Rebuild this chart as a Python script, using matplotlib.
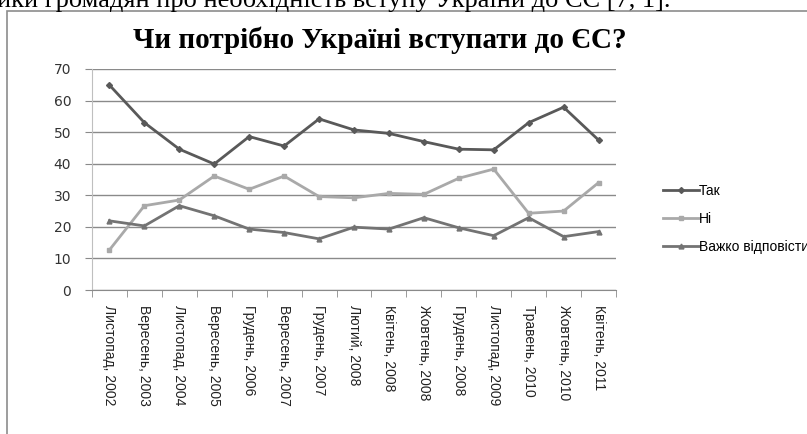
import numpy as np
import matplotlib.pyplot as plt
from matplotlib.patches import Rectangle

# дані з діаграми (%)
periods = ["Листопад, 2002", "Вересень, 2003", "Листопад, 2004", "Вересень, 2005",
           "Грудень, 2006", "Вересень, 2007", "Грудень, 2007", "Лютий, 2008",
           "Квітень, 2008", "Жовтень, 2008", "Грудень, 2008", "Листопад, 2009",
           "Травень, 2010", "Жовтень, 2010", "Квітень, 2011"]
tak = [64.9, 53.0, 44.6, 39.9, 48.6, 45.6, 54.2, 50.7, 49.6, 47.0, 44.6, 44.4, 53.0, 57.9, 47.5]
ni = [12.7, 26.7, 28.5, 36.1, 31.9, 36.1, 29.6, 29.2, 30.6, 30.3, 35.4, 38.3, 24.3, 25.0, 34.0]
vazhko = [21.9, 20.3, 26.7, 23.5, 19.3, 18.2, 16.2, 19.9, 19.3, 22.9, 19.7, 17.2, 22.9, 16.9, 18.5]

fig = plt.figure(figsize=(8.07, 4.34), dpi=100)
ax = fig.add_axes([92 / 807, 1 - 290 / 434, 524 / 807, 221 / 434])

# рамка області діаграми
fig.patches.append(Rectangle((7 / 807, -0.1), 1.2, 1 - 11 / 434 + 0.1,
                             transform=fig.transFigure, fill=False,
                             edgecolor='#8c8c8c', linewidth=1.2))

# обрізаний рядок тексту документа зверху
fig.text(-0.004, 1 - 7 / 434, "ики громадян про необхідність вступу України до ЄС [7, 1].",
         fontfamily='Liberation Serif', fontsize=19, va='baseline', ha='left')

x = np.arange(len(periods))
ax.plot(x, tak, color='#595959', lw=2.0, marker='D', ms=3, label='Так')
ax.plot(x, ni, color='#a9a9a9', lw=2.0, marker='s', ms=3.5, label='Ні')
ax.plot(x, vazhko, color='#737373', lw=2.0, marker='^', ms=3.5, label='Важко відповісти')

ax.set_xlim(-0.5, len(periods) - 0.5)
ax.set_ylim(0, 70)
ax.set_yticks(range(0, 71, 10))
ax.yaxis.grid(True, color='#8a8a8a', lw=1)
ax.set_axisbelow(True)

ax.set_xticks(x)
ax.set_xticklabels(periods, rotation=-90, fontfamily='Liberation Sans', fontsize=10,
                   color='#222222')
ax.set_xticks(np.arange(-0.5, len(periods), 1), minor=True)
ax.tick_params(axis='x', which='major', length=0, pad=11)
ax.tick_params(axis='x', which='minor', length=5, color='#8a8a8a')
ax.tick_params(axis='y', length=5, color='#8a8a8a', pad=10, labelsize=10, labelcolor='#333333')
for lab in ax.get_yticklabels():
    lab.set_fontfamily('DejaVu Sans')

for s in ['top', 'right']:
    ax.spines[s].set_visible(False)
ax.spines['left'].set_color('#bfbfbf')
ax.spines['bottom'].set_color('#8a8a8a')

fig.text(380 / 807, 1 - 48 / 434, "Чи потрібно Україні вступати до ЄС?",
         fontfamily='Liberation Serif', fontweight='bold', fontsize=21,
         ha='center', va='baseline')

fig.legend(loc='center left', bbox_to_anchor=(650 / 807, 1 - 219 / 434), frameon=False,
           handlelength=2.6, handletextpad=0.0, labelspacing=1.0,
           prop={'family': 'Liberation Sans', 'size': 10})

fig.savefig('out.png', dpi=100)
